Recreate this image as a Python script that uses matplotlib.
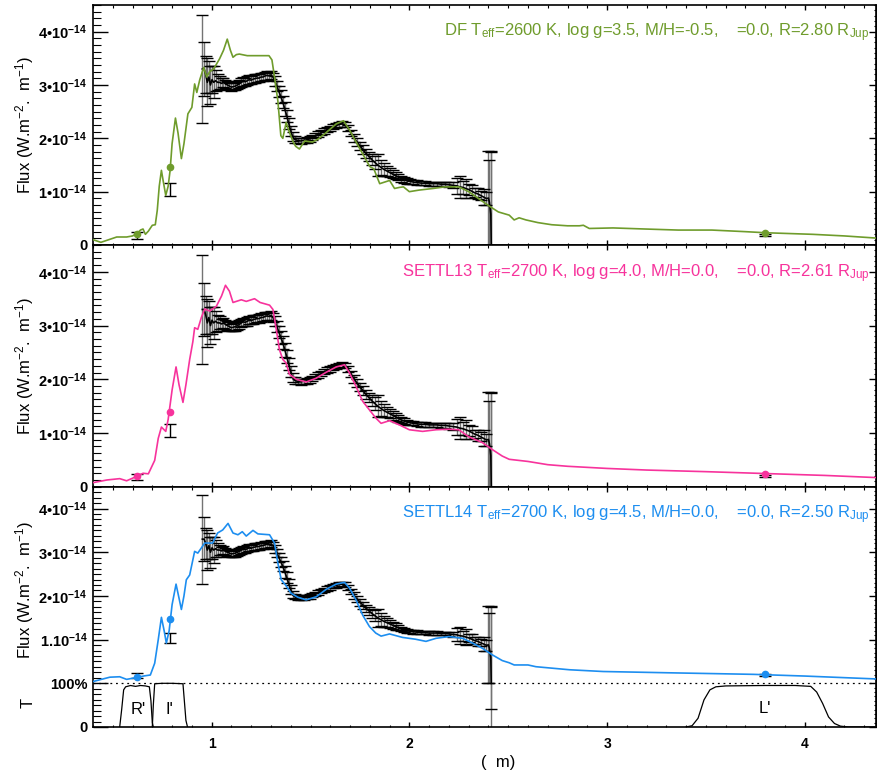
import matplotlib
matplotlib.use('Agg')
import matplotlib.pyplot as plt
from matplotlib.ticker import MultipleLocator, FixedLocator, FixedFormatter

plt.rcParams['font.family'] = 'sans-serif'
plt.rcParams['font.sans-serif'] = ['Liberation Sans', 'DejaVu Sans']
plt.rcParams['mathtext.fontset'] = 'custom'
plt.rcParams['mathtext.rm'] = 'Liberation Sans'
plt.rcParams['mathtext.it'] = 'Liberation Sans:italic'
plt.rcParams['mathtext.bf'] = 'Liberation Sans:bold'

# ---- observed spectrum (flux in 1e-14 W.m-2.um-1) ----
spec_wave = [0.953, 0.962, 0.970, 0.978, 0.986, 0.994, 1.002, 1.010, 1.020, 1.030,
             1.040, 1.050, 1.060, 1.070, 1.080, 1.090, 1.100, 1.110, 1.120, 1.130,
             1.140, 1.150, 1.160, 1.170, 1.180, 1.190, 1.200, 1.210, 1.220, 1.230,
             1.240, 1.250, 1.260, 1.270, 1.280, 1.290, 1.300, 1.310, 1.320, 1.330,
             1.340, 1.350, 1.360, 1.370, 1.380, 1.390, 1.400, 1.410, 1.420, 1.435,
             1.450, 1.465, 1.480, 1.495, 1.510, 1.525, 1.540, 1.555, 1.570, 1.585,
             1.600, 1.615, 1.630, 1.645, 1.660, 1.675, 1.690, 1.705, 1.720, 1.735,
             1.750, 1.765, 1.780, 1.795, 1.810, 1.825, 1.840, 1.855, 1.870, 1.885,
             1.900, 1.915, 1.930, 1.945, 1.960, 1.975, 1.990, 2.005, 2.020, 2.040,
             2.060, 2.080, 2.100, 2.120, 2.140, 2.160, 2.180, 2.200, 2.220, 2.240,
             2.255, 2.270, 2.285, 2.300, 2.315, 2.330, 2.345, 2.360, 2.375, 2.390,
             2.400, 2.405, 2.412, 2.414]
spec_flux = [3.30, 3.30, 3.20, 3.05, 3.15, 3.00, 3.10, 3.05, 3.08, 3.05,
             3.05, 3.03, 3.05, 3.02, 3.00, 2.98, 2.96, 2.97, 2.98, 3.00,
             3.02, 3.05, 3.07, 3.06, 3.08, 3.10, 3.09, 3.11, 3.12, 3.13,
             3.13, 3.15, 3.15, 3.17, 3.18, 3.17, 3.19, 3.15, 3.08, 2.98,
             2.88, 2.78, 2.68, 2.55, 2.42, 2.28, 2.14, 2.03, 1.98, 1.96,
             1.95, 1.96, 1.97, 1.99, 2.02, 2.05, 2.08, 2.11, 2.14, 2.17,
             2.19, 2.22, 2.24, 2.26, 2.27, 2.26, 2.19, 2.10, 2.01, 1.93,
             1.86, 1.79, 1.72, 1.66, 1.60, 1.55, 1.50, 1.46, 1.42, 1.39,
             1.36, 1.33, 1.30, 1.27, 1.24, 1.22, 1.20, 1.19, 1.18, 1.17,
             1.16, 1.16, 1.15, 1.15, 1.15, 1.14, 1.14, 1.13, 1.12, 1.11,
             1.09, 1.08, 1.06, 1.04, 1.01, 0.98, 0.96, 0.93, 0.90, 0.87,
             0.88, 0.80, 0.58, 0.00]
spec_err = [1.02, 0.50, 0.35, 0.45, 0.30, 0.35, 0.25, 0.30, 0.20, 0.15,
            0.12, 0.10, 0.09, 0.08, 0.08, 0.08, 0.07, 0.07, 0.08, 0.08,
            0.08, 0.08, 0.08, 0.07, 0.08, 0.08, 0.07, 0.08, 0.08, 0.07,
            0.08, 0.08, 0.07, 0.08, 0.08, 0.08, 0.08, 0.08, 0.09, 0.10,
            0.11, 0.12, 0.12, 0.13, 0.12, 0.11, 0.10, 0.08, 0.06, 0.05,
            0.05, 0.05, 0.05, 0.05, 0.05, 0.05, 0.05, 0.05, 0.05, 0.05,
            0.05, 0.05, 0.05, 0.05, 0.05, 0.05, 0.06, 0.06, 0.07, 0.07,
            0.08, 0.08, 0.08, 0.09, 0.10, 0.12, 0.20, 0.14, 0.12, 0.10,
            0.09, 0.08, 0.07, 0.06, 0.05, 0.05, 0.05, 0.04, 0.04, 0.04,
            0.04, 0.04, 0.04, 0.04, 0.04, 0.04, 0.04, 0.05, 0.06, 0.15,
            0.20, 0.12, 0.18, 0.10, 0.12, 0.08, 0.10, 0.08, 0.15, 0.12,
            0.88, 0.80, 1.17, 1.76]

# photometry R', I', L'
phot_wave = [0.625, 0.79, 3.80]
phot_flux = [0.18, 1.04, 0.195]
phot_err = [0.06, 0.12, 0.02]

# ---- models ----
df_wave = [0.40, 0.44, 0.48, 0.52, 0.57, 0.60, 0.625, 0.64, 0.653, 0.665, 0.68, 0.70,
           0.715, 0.725, 0.735, 0.746, 0.755, 0.768, 0.78, 0.79, 0.80, 0.817, 0.83,
           0.847, 0.86, 0.88, 0.90, 0.914, 0.925, 0.94, 0.96, 0.975, 0.99, 1.01, 1.04,
           1.06, 1.079, 1.095, 1.108, 1.125, 1.14, 1.18, 1.22, 1.26, 1.29, 1.305, 1.32,
           1.335, 1.35, 1.36, 1.377, 1.39, 1.41, 1.425, 1.444, 1.47, 1.51, 1.54, 1.58,
           1.63, 1.667, 1.70, 1.75, 1.80, 1.82, 1.85, 1.875, 1.90, 1.925, 1.95, 1.97,
           2.00, 2.05, 2.12, 2.18, 2.25, 2.30, 2.35, 2.40, 2.45, 2.505, 2.53, 2.555,
           2.59, 2.65, 2.72, 2.80, 2.86, 2.88, 2.91, 3.03, 3.19, 3.36, 3.53, 3.70,
           3.80, 4.04, 4.20, 4.36]
df_flux = [0.10, 0.05, 0.10, 0.15, 0.15, 0.17, 0.22, 0.28, 0.30, 0.20, 0.26, 0.37,
           0.38, 0.65, 1.10, 1.40, 1.20, 0.93, 1.10, 1.40, 1.90, 2.38, 2.10,
           1.62, 1.90, 2.46, 2.58, 3.02, 2.86, 3.10, 3.33, 3.15, 3.25, 3.30, 3.49,
           3.65, 3.86, 3.65, 3.52, 3.57, 3.58, 3.55, 3.55, 3.55, 3.55, 3.47, 3.10,
           2.70, 2.05, 2.00, 2.30, 2.15, 1.95, 1.85, 1.80, 1.95, 1.93, 1.99, 2.11,
           2.27, 2.33, 2.14, 1.80, 1.47, 1.43, 1.15, 1.18, 1.21, 1.06, 1.08, 1.09,
           1.00, 1.03, 1.06, 1.09, 1.09, 1.00, 0.87, 0.74, 0.62, 0.56, 0.47, 0.51,
           0.47, 0.42, 0.38, 0.36, 0.36, 0.37, 0.31, 0.32, 0.30, 0.28, 0.28, 0.25,
           0.23, 0.20, 0.17, 0.13]
df_phot = [0.20, 1.47, 0.23]

settl13_wave = [0.40, 0.47, 0.535, 0.57, 0.62, 0.653, 0.68, 0.712, 0.73, 0.746, 0.768,
                0.78, 0.80, 0.82, 0.835, 0.855, 0.87, 0.889, 0.905, 0.914, 0.93, 0.948,
                0.965, 0.99, 1.024, 1.05, 1.07, 1.09, 1.108, 1.15, 1.175, 1.217, 1.245,
                1.293, 1.31, 1.327, 1.343, 1.36, 1.377, 1.394, 1.428, 1.478, 1.529,
                1.579, 1.63, 1.672, 1.697, 1.73, 1.764, 1.798, 1.83, 1.857, 1.90, 1.95,
                2.00, 2.067, 2.135, 2.20, 2.25, 2.30, 2.37, 2.42, 2.47, 2.505, 2.60,
                2.70, 2.80, 3.00, 3.20, 3.50, 3.80, 4.10, 4.36]
settl13_flux = [0.075, 0.125, 0.15, 0.11, 0.19, 0.25, 0.24, 0.49, 0.90, 1.11, 1.03,
                1.25, 1.80, 2.23, 1.90, 1.57, 1.90, 2.37, 2.70, 2.96, 2.93, 3.15,
                3.31, 3.27, 3.36, 3.55, 3.75, 3.64, 3.43, 3.48, 3.45, 3.50, 3.43,
                3.38, 3.30, 2.93, 2.55, 2.37, 2.30, 2.09, 2.00, 1.95, 2.02,
                2.13, 2.23, 2.27, 2.12, 1.87, 1.59, 1.43, 1.28, 1.18, 1.23, 1.15,
                1.06, 1.03, 1.06, 1.07, 1.06, 0.93, 0.82, 0.69, 0.57, 0.51, 0.47,
                0.41, 0.38, 0.34, 0.31, 0.28, 0.245, 0.21, 0.17]
settl13_phot = [0.19, 1.40, 0.24]

settl14_wave = [0.40, 0.485, 0.535, 0.57, 0.628, 0.66, 0.69, 0.712, 0.73, 0.746, 0.76,
                0.771, 0.785, 0.80, 0.82, 0.835, 0.847, 0.86, 0.872, 0.889, 0.914, 0.93,
                0.965, 1.005, 1.03, 1.056, 1.083, 1.108, 1.133, 1.155, 1.175, 1.209,
                1.234, 1.293, 1.318, 1.335, 1.352, 1.377, 1.402, 1.436, 1.478, 1.529,
                1.579, 1.63, 1.672, 1.697, 1.73, 1.764, 1.798, 1.83, 1.857, 1.90, 1.966,
                2.03, 2.084, 2.135, 2.20, 2.27, 2.32, 2.37, 2.42, 2.47, 2.505, 2.53,
                2.60, 2.64, 2.81, 2.98, 3.32, 3.74, 4.00, 4.36]
settl14_flux = [0.04, 0.14, 0.15, 0.09, 0.14, 0.17, 0.19, 0.46, 1.00, 1.51, 1.20,
                0.92, 1.20, 1.80, 2.27, 1.95, 1.69, 2.00, 2.37, 2.48, 3.02, 2.98,
                3.21, 3.21, 3.44, 3.51, 3.66, 3.44, 3.40, 3.47, 3.37, 3.50,
                3.42, 3.40, 3.21, 2.75, 2.37, 2.23, 2.06, 1.97, 1.91, 1.98,
                2.15, 2.27, 2.31, 2.18, 1.91, 1.56, 1.30, 1.15, 1.08, 1.13, 1.05,
                1.01, 0.96, 1.03, 1.07, 1.03, 0.92, 0.80, 0.65, 0.52, 0.47, 0.42,
                0.42, 0.38, 0.31, 0.27, 0.24, 0.205, 0.166, 0.10]
settl14_phot = [0.14, 1.47, 0.21]

# ---- filter transmissions ----
r_wave = [0.535, 0.545, 0.555, 0.565, 0.59, 0.615, 0.64, 0.665, 0.685, 0.693, 0.700, 0.705]
r_trans = [0.0, 0.40, 0.85, 0.92, 0.95, 0.93, 0.95, 0.94, 0.92, 0.60, 0.10, 0.0]
i_wave = [0.700, 0.705, 0.712, 0.75, 0.80, 0.855, 0.862, 0.870, 0.878]
i_trans = [0.0, 0.50, 0.99, 1.0, 1.0, 0.99, 0.60, 0.15, 0.0]
l_wave = [3.40, 3.43, 3.46, 3.49, 3.52, 3.55, 3.60, 3.80, 3.95, 4.03, 4.06, 4.09,
          4.12, 4.15, 4.18, 4.22, 4.36]
l_trans = [0.0, 0.03, 0.20, 0.62, 0.85, 0.92, 0.94, 0.95, 0.95, 0.93, 0.80, 0.54,
           0.23, 0.08, 0.02, 0.0, 0.0]

models = [
    ('DF', df_wave, df_flux, df_phot, '#6f9c2c',
     r'DF T$_{\rm eff}$=2600 K, log g=3.5, M/H=-0.5,    =0.0, R=2.80 R$_{\rm Jup}$'),
    ('SETTL13', settl13_wave, settl13_flux, settl13_phot, '#f7339c',
     r'SETTL13 T$_{\rm eff}$=2700 K, log g=4.0, M/H=0.0,    =0.0, R=2.61 R$_{\rm Jup}$'),
    ('SETTL14', settl14_wave, settl14_flux, settl14_phot, '#1d8ef0',
     r'SETTL14 T$_{\rm eff}$=2700 K, log g=4.5, M/H=0.0,    =0.0, R=2.50 R$_{\rm Jup}$'),
]

W, H = 878, 774
fig = plt.figure(figsize=(W / 100, H / 100), dpi=100)

x0, x1 = 93, 876
panels_px = [(5, 245), (245, 486.7), (486.7, 727)]
ylabel = r'Flux (W.m$^{-2}$.  m$^{-1}$)'

for i, ((top, bot), (name, mw, mf, mp, col, txt)) in enumerate(zip(panels_px, models)):
    ax = fig.add_axes([x0 / W, 1 - bot / H, (x1 - x0) / W, (bot - top) / H])
    last = (i == 2)

    # observed spectrum: grey bars, black caps
    lo = [f - e for f, e in zip(spec_flux, spec_err)]
    hi = [f + e for f, e in zip(spec_flux, spec_err)]
    ax.vlines(spec_wave, lo, hi, color='0.45', lw=1.0, zorder=2)
    ax.plot(spec_wave, spec_flux, color='black', lw=1.2, zorder=3)
    ax.plot(spec_wave, lo, ls='none', marker='_', ms=9, mew=1.0, color='black', zorder=3)
    ax.plot(spec_wave, hi, ls='none', marker='_', ms=9, mew=1.0, color='black', zorder=3)
    # photometry
    ax.errorbar(phot_wave, phot_flux, yerr=phot_err, fmt='none', ecolor='black',
                elinewidth=1.0, capsize=4, capthick=1.0, zorder=3)

    # model
    ax.plot(mw, mf, color=col, lw=1.2, zorder=4)
    ax.plot(phot_wave, mp, ls='none', marker='o', ms=4.5, color=col, zorder=5)

    ax.text(0.992, 0.883, txt, transform=ax.transAxes, ha='right', va='center',
            color=col, fontsize=12)

    ax.set_xlim(0.4, 4.36)
    ax.xaxis.set_major_locator(MultipleLocator(1))
    ax.xaxis.set_minor_locator(MultipleLocator(0.1))
    ax.tick_params(axis='x', which='major', direction='in', length=3.5, width=1.0,
                   top=True, bottom=True, labelbottom=last, pad=7, labelsize=10)
    ax.tick_params(axis='x', which='minor', direction='in', length=1.8, width=0.8,
                   top=True, bottom=True)

    if last:
        ax.set_ylim(-1.0, 4.5)
        yt = [-1, 0, 1, 2, 3, 4]
        ylab = ['0', '100%', r'1.10$^{\mathbf{-14}}$', r'2•10$^{\mathbf{-14}}$',
                r'3•10$^{\mathbf{-14}}$', r'4•10$^{\mathbf{-14}}$']
        ax.axhline(0, color='black', ls=(0, (1.5, 3)), lw=0.9, zorder=1)
        for tw, tt in [(r_wave, r_trans), (i_wave, i_trans), (l_wave, l_trans)]:
            ax.plot(tw, [t - 1 for t in tt], color='black', lw=0.9, zorder=2)
        ax.text(0.627, -0.6, "R'", ha='center', va='center', fontsize=12)
        ax.text(0.787, -0.6, "I'", ha='center', va='center', fontsize=12)
        ax.text(3.80, -0.57, "L'", ha='center', va='center', fontsize=12)
    else:
        ax.set_ylim(0.0, 4.5)
        yt = [0, 1, 2, 3, 4]
        ylab = ['0', r'1•10$^{\mathbf{-14}}$', r'2•10$^{\mathbf{-14}}$',
                r'3•10$^{\mathbf{-14}}$', r'4•10$^{\mathbf{-14}}$']
    ax.yaxis.set_major_locator(FixedLocator(yt))
    ax.yaxis.set_major_formatter(FixedFormatter(ylab))
    ax.yaxis.set_minor_locator(MultipleLocator(0.125))
    ax.tick_params(axis='y', which='major', direction='in', length=11, width=1.0,
                   left=True, right=False, pad=4, labelsize=10.5)
    ax.tick_params(axis='y', which='minor', direction='in', length=5.5, width=0.8,
                   left=True, right=False)
    for lab in ax.get_yticklabels():
        lab.set_fontweight('bold')
    if last:
        for lab in ax.get_xticklabels():
            lab.set_fontweight('bold')

    sec = ax.secondary_yaxis('right')
    sec.yaxis.set_major_locator(FixedLocator(yt))
    sec.yaxis.set_minor_locator(MultipleLocator(0.1))
    sec.tick_params(which='major', direction='in', length=5, width=1.0, labelright=False)
    sec.tick_params(which='minor', direction='in', length=1.5, width=0.8)

    for sp in ax.spines.values():
        sp.set_linewidth(1.2)

    # y label
    if last:
        cy = 590
        fig.text(28 / W, 1 - 703 / H, 'T', rotation=90, ha='center', va='center',
                 fontsize=12)
    else:
        cy = (top + bot) / 2
    fig.text(25 / W, 1 - cy / H, ylabel, rotation=90, ha='center', va='center',
             fontsize=12)

fig.text(498 / W, 1 - 763 / H, '(  m)', ha='center', va='center', fontsize=12)

fig.savefig('out.png', dpi=100)
